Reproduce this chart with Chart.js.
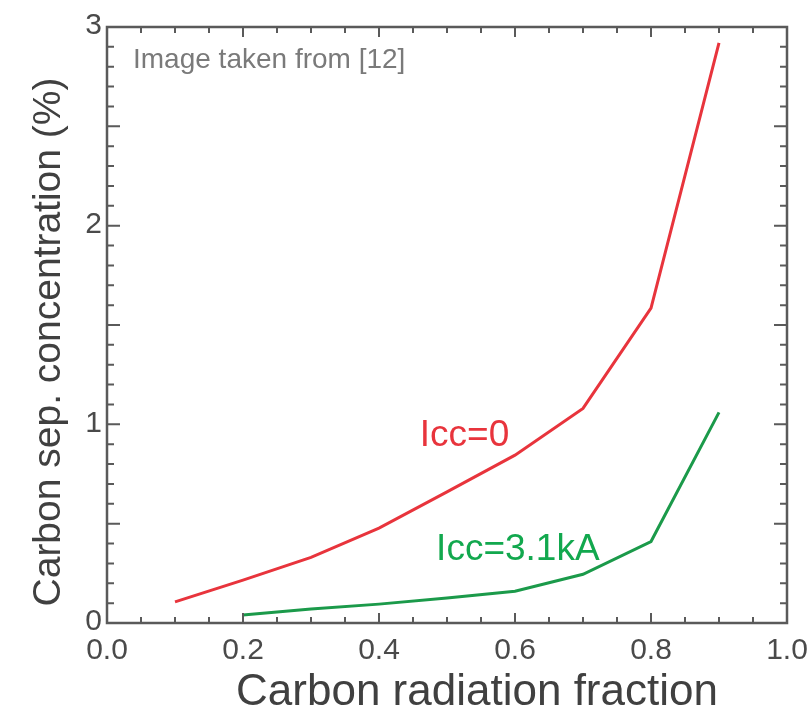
<!DOCTYPE html>
<html>
<head>
<meta charset="utf-8">
<script src="https://cdn.jsdelivr.net/npm/chart.js@4/dist/chart.umd.min.js"></script>
<style>
  html, body { margin: 0; padding: 0; background: #fff; }
  #wrap { width: 810px; height: 708px; position: relative; }
</style>
</head>
<body>
<div id="wrap"><canvas id="chart"></canvas></div>
<script>
// Carbon separatrix concentration vs carbon radiation fraction

const fractionRed = [0.1, 0.2, 0.3, 0.4, 0.5, 0.6, 0.7, 0.8, 0.9];
const concRed = [0.106, 0.216, 0.33, 0.478, 0.66, 0.845, 1.08, 1.585, 2.92];

const fractionGreen = [0.2, 0.3, 0.4, 0.5, 0.6, 0.7, 0.8, 0.9];
const concGreen = [0.04, 0.07, 0.095, 0.126, 0.16, 0.245, 0.41, 1.06];

const xTickLabels = ['0.0', '0.2', '0.4', '0.6', '0.8', '1.0'];
const yTickLabels = ['0', '1', '2', '3'];

const labelRed = 'Icc=0';
const labelGreen = 'Icc=3.1kA';
const xTitle = 'Carbon radiation fraction';
const yTitle = 'Carbon sep. concentration (%)';
const note = 'Image taken from [12]';

const FONT = '"Liberation Sans", Arial, sans-serif';
const AXIS = '#5a5a5a';

function toPoints(xs, ys) {
  return xs.map((x, i) => ({ x, y: ys[i] }));
}

// draws the framed box, inward ticks and all the text
const framePlugin = {
  id: 'frame',
  afterDatasetsDraw(chart) {
    const { ctx, chartArea: a, scales } = chart;
    const xs = scales.x, ys = scales.y;
    ctx.save();

    // ticks
    ctx.strokeStyle = AXIS;
    ctx.lineWidth = 2;
    ctx.beginPath();
    for (let i = 0; i <= 20; i++) {
      const px = xs.getPixelForValue(i * 0.05);
      const len = i % 4 === 0 ? 10 : 6;
      ctx.moveTo(px, a.bottom); ctx.lineTo(px, a.bottom - len);
      ctx.moveTo(px, a.top); ctx.lineTo(px, a.top + len);
    }
    for (let i = 0; i <= 30; i++) {
      const py = ys.getPixelForValue(i * 0.1);
      const len = i % 5 === 0 ? 13 : 7;
      ctx.moveTo(a.left, py); ctx.lineTo(a.left + len, py);
      ctx.moveTo(a.right, py); ctx.lineTo(a.right - len, py);
    }
    ctx.stroke();

    // box
    ctx.lineWidth = 2.5;
    ctx.strokeRect(a.left, a.top, a.right - a.left, a.bottom - a.top);

    // tick labels
    ctx.fillStyle = '#4a4a4a';
    ctx.font = '30px ' + FONT;
    ctx.textAlign = 'center';
    ctx.textBaseline = 'top';
    xTickLabels.forEach(t => {
      ctx.fillText(t, xs.getPixelForValue(Number(t)), a.bottom + 13);
    });
    ctx.textAlign = 'right';
    ctx.textBaseline = 'middle';
    yTickLabels.forEach(t => {
      ctx.fillText(t, a.left - 5, ys.getPixelForValue(Number(t)) - 1);
    });

    // axis titles
    ctx.fillStyle = '#404040';
    ctx.textAlign = 'center';
    ctx.textBaseline = 'alphabetic';
    ctx.font = '44px ' + FONT;
    ctx.fillText(xTitle, 477, 705);
    ctx.save();
    ctx.font = '39px ' + FONT;
    ctx.translate(60, 342);
    ctx.rotate(-Math.PI / 2);
    ctx.fillText(yTitle, 0, 0);
    ctx.restore();

    // series labels
    ctx.textAlign = 'left';
    ctx.font = '37px ' + FONT;
    ctx.fillStyle = '#e8343c';
    ctx.fillText(labelRed, xs.getPixelForValue(0.46), ys.getPixelForValue(0.893));
    ctx.fillStyle = '#12a84e';
    ctx.fillText(labelGreen, xs.getPixelForValue(0.484), ys.getPixelForValue(0.317));

    // source note
    ctx.font = '28px ' + FONT;
    ctx.fillStyle = '#7a7a7a';
    ctx.fillText(note, 133, 68);

    ctx.restore();
  }
};

new Chart(document.getElementById('chart'), {
  type: 'line',
  data: {
    datasets: [
      {
        label: labelRed,
        data: toPoints(fractionRed, concRed),
        borderColor: '#e8343c',
        borderWidth: 3,
        pointRadius: 0,
        tension: 0,
      },
      {
        label: labelGreen,
        data: toPoints(fractionGreen, concGreen),
        borderColor: '#1b9a4a',
        borderWidth: 3,
        pointRadius: 0,
        tension: 0,
      },
    ],
  },
  options: {
    responsive: true,
    maintainAspectRatio: false,
    animation: false,
    layout: { padding: { left: 107, right: 23, top: 27, bottom: 85 } },
    scales: {
      x: { type: 'linear', min: 0, max: 1, display: false },
      y: { type: 'linear', min: 0, max: 3, display: false },
    },
    plugins: {
      legend: { display: false },
      tooltip: { enabled: false },
    },
  },
  plugins: [framePlugin],
});
</script>
</body>
</html>
